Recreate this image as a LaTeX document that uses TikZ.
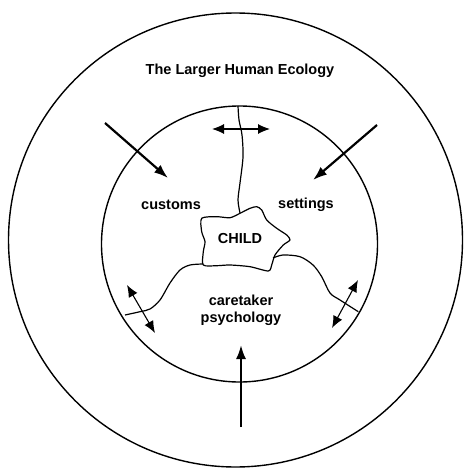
\documentclass[tikz,border=0pt]{standalone}
\usepackage{fontspec}
\setmainfont{Liberation Sans}
\usetikzlibrary{arrows.meta}
\tikzset{
  ring/.style={line width=1.4pt},
  divide/.style={line width=1.2pt, line join=round},
  push/.style={-{Latex[length=14pt,width=10pt]}, line width=2.2pt},
  swap/.style={{Latex[length=12pt,width=10pt]}-{Latex[length=12pt,width=10pt]}, line width=1.1pt},
  lbl/.style={font=\fontsize{14.5}{17}\selectfont\bfseries, inner sep=0pt, align=center}
}

\begin{document}
\begin{tikzpicture}[x=1pt,y=-1pt]
  \useasboundingbox (0,0) rectangle (464,470);
  % the two rings
  \draw[ring] (235.5,240) circle[radius=227];
  \draw[ring] (239.5,244) circle[radius=138];
  % the child and the borders between the three parts
  \draw[divide] plot[smooth cycle, tension=0.45] coordinates {(201.7,218.3) (216.7,216.7) (230,217.7) (240,213.3) (250,208.3) (256.7,206.7) (261.7,210) (266.7,220) (276.7,228.3) (286.7,235) (290,240) (283.3,245) (275,255) (271.7,265) (268.3,271) (250,266.7) (230,265) (216.7,265.7) (203.3,265) (203.3,251.7) (205,241.7) (201.7,231.7)};
  \draw[divide] plot[smooth] coordinates {(238,106) (239,120) (242,135) (243,157) (240,183) (238,200) (240,213)};
  \draw[divide] plot[smooth] coordinates {(125,315) (140,311.7) (150,309) (160,300) (170,283) (180,270) (190,265) (203,264)};
  \draw[divide] plot[smooth] coordinates {(273,258) (283,255) (300,256.7) (313,265) (321.7,276.7) (330,293) (340,300) (358.3,311.7)};
  % labels
  \node[lbl] (eco) at (240,71) {The Larger Human Ecology};
  \node[lbl] (customs) at (171,205) {customs};
  \node[lbl] (settings) at (306,205) {settings};
  \node[lbl] (child) at (240,239) {CHILD};
  \node[lbl] (care) at (241,310) {caretaker\\psychology};
  % arrow ends
  \coordinate (ulA) at (105,123);
  \coordinate (ulB) at (168,178);
  \coordinate (urA) at (377,125);
  \coordinate (urB) at (313,180);
  \coordinate (botA) at (241,427);
  \coordinate (botB) at (241,345);
  \coordinate (topL) at (212,129);
  \coordinate (topR) at (270,129);
  \coordinate (blA) at (127,285);
  \coordinate (blB) at (155,333);
  \coordinate (brA) at (358,280);
  \coordinate (brB) at (332,328);
  \draw[push] (ulA) -- (ulB);
  \draw[push] (urA) -- (urB);
  \draw[push] (botA) -- (botB);
  \draw[swap] (topL) -- (topR);
  \draw[swap] (blA) -- (blB);
  \draw[swap] (brA) -- (brB);
\end{tikzpicture}
\end{document}
